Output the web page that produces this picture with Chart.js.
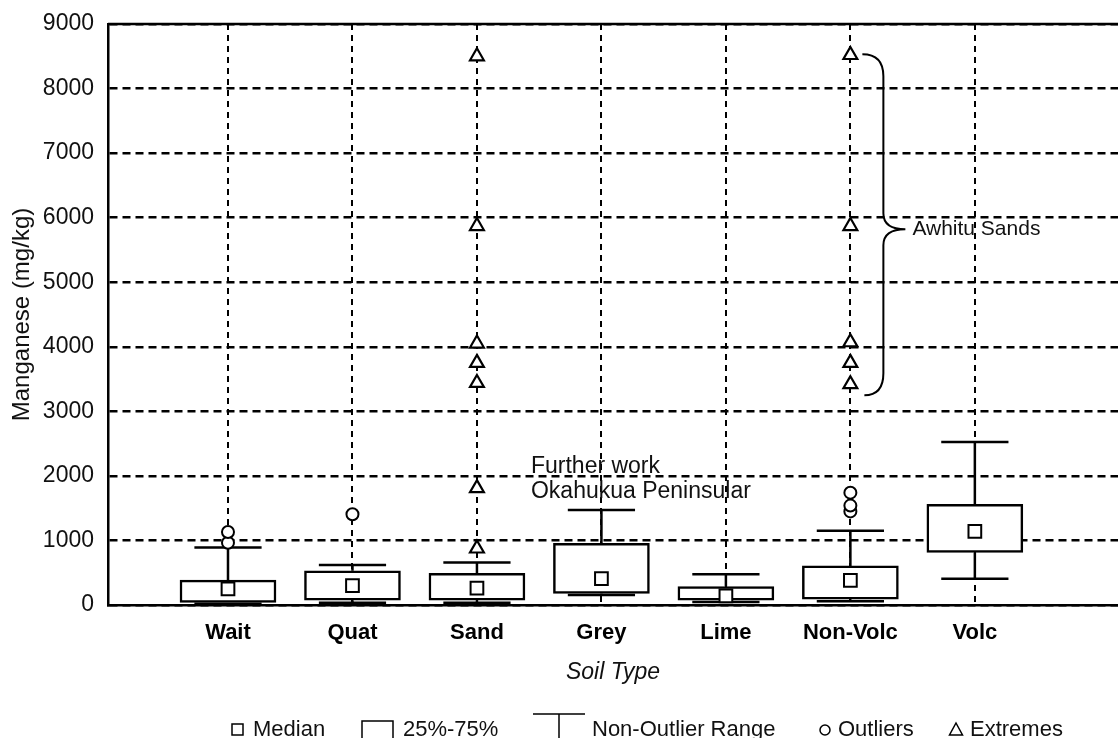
<!DOCTYPE html>
<html>
<head>
<meta charset="utf-8">
<script src="https://cdn.jsdelivr.net/npm/chart.js@4.4.1/dist/chart.umd.min.js"></script>
<style>
  html, body { margin: 0; padding: 0; background: #fff; }
  #wrap { width: 1118px; height: 738px; }
</style>
</head>
<body>
<div id="wrap"><canvas id="boxChart" width="1118" height="738"></canvas></div>
<script>
// soil types along the x axis
const soilTypes = ["Wait", "Quat", "Sand", "Grey", "Lime", "Non-Volc", "Volc"];

// box statistics, manganese in mg/kg
const medians   = [250, 300, 260, 410, 140, 380, 1140];
const q25       = [40, 75, 75, 180, 75, 90, 815];
const q75       = [385, 530, 490, 955, 285, 605, 1560];
const rangeLow  = [20, 35, 35, 155, 45, 60, 405];
const rangeHigh = [890, 620, 660, 1470, 475, 1150, 2525];

// points beyond the whiskers, one list per soil type
const outliers = [[965, 1130], [1405], [], [], [], [1450, 1540, 1740], []];
const extremes = [[], [], [875, 1810, 3440, 3750, 4050, 5870, 8500], [], [], [3420, 3750, 4070, 5870, 8520], []];

const yTickValues = [0, 1000, 2000, 3000, 4000, 5000, 6000, 7000, 8000, 9000];

Chart.defaults.font.family = '"Liberation Sans", Arial, Helvetica, sans-serif';
Chart.defaults.color = '#111';

const capHalf = 0.27;
const whiskerPts = [];
soilTypes.forEach((_, i) => {
  const cx = i + 1;
  whiskerPts.push(
    {x: cx, y: q75[i]}, {x: cx, y: rangeHigh[i]}, {x: cx, y: null},
    {x: cx - capHalf, y: rangeHigh[i]}, {x: cx + capHalf, y: rangeHigh[i]}, {x: cx, y: null},
    {x: cx, y: q25[i]}, {x: cx, y: rangeLow[i]}, {x: cx, y: null},
    {x: cx - capHalf, y: rangeLow[i]}, {x: cx + capHalf, y: rangeLow[i]}, {x: cx, y: null}
  );
});

const pointsOf = lists => lists.flatMap((vals, i) => vals.map(v => ({x: i + 1, y: v})));

// top frame line, notes, brace and the legend row
const extras = {
  id: 'extras',
  afterDraw(chart) {
    const {ctx, chartArea, scales: {x, y}} = chart;
    ctx.save();
    ctx.strokeStyle = '#000';
    ctx.lineWidth = 2.5;
    ctx.beginPath();
    ctx.moveTo(chartArea.left, chartArea.top);
    ctx.lineTo(chartArea.right, chartArea.top);
    ctx.stroke();

    ctx.fillStyle = '#111';
    ctx.textBaseline = 'middle';
    ctx.font = '23px "Liberation Sans", Arial, sans-serif';
    const sandX = x.getPixelForValue(3);
    ctx.fillText('Further work', sandX + 54, y.getPixelForValue(2150));
    ctx.fillText('Okahukua Peninsular', sandX + 54, y.getPixelForValue(1760));

    const nv = x.getPixelForValue(6);
    const top = y.getPixelForValue(8530), tip = y.getPixelForValue(5820), bot = y.getPixelForValue(3250);
    const bx = nv + 33;
    ctx.lineWidth = 2;
    ctx.beginPath();
    ctx.moveTo(nv + 12, top);
    ctx.quadraticCurveTo(bx, top, bx, top + 22);
    ctx.lineTo(bx, tip - 16);
    ctx.quadraticCurveTo(bx, tip, bx + 22, tip);
    ctx.quadraticCurveTo(bx, tip, bx, tip + 16);
    ctx.lineTo(bx, bot - 22);
    ctx.quadraticCurveTo(bx, bot, nv + 14, bot);
    ctx.stroke();
    ctx.font = '21px "Liberation Sans", Arial, sans-serif';
    ctx.fillText('Awhitu Sands', nv + 62, tip);

    // legend
    const base = 736;
    ctx.font = '22px "Liberation Sans", Arial, sans-serif';
    ctx.textBaseline = 'alphabetic';
    ctx.lineWidth = 1.5;
    ctx.strokeRect(232, 724, 11, 11);
    ctx.fillText('Median', 253, base);
    ctx.beginPath();
    ctx.moveTo(362, 742); ctx.lineTo(362, 721); ctx.lineTo(393, 721); ctx.lineTo(393, 742);
    ctx.stroke();
    ctx.fillText('25%-75%', 403, base);
    ctx.beginPath();
    ctx.moveTo(533, 714); ctx.lineTo(585, 714);
    ctx.moveTo(559, 714); ctx.lineTo(559, 742);
    ctx.stroke();
    ctx.fillText('Non-Outlier Range', 592, base);
    ctx.beginPath();
    ctx.arc(825, 730, 5, 0, Math.PI * 2);
    ctx.stroke();
    ctx.fillText('Outliers', 838, base);
    ctx.beginPath();
    ctx.moveTo(956, 723); ctx.lineTo(962.5, 735); ctx.lineTo(949.5, 735); ctx.closePath();
    ctx.stroke();
    ctx.fillText('Extremes', 970, base);
    ctx.restore();
  }
};

new Chart(document.getElementById('boxChart'), {
  type: 'bar',
  data: {
    datasets: [
      {
        type: 'scatter', label: 'Median', order: 0,
        data: soilTypes.map((_, i) => ({x: i + 1, y: medians[i]})),
        pointStyle: 'rect', pointRadius: 9, pointBackgroundColor: '#fff',
        pointBorderColor: '#000', pointBorderWidth: 2
      },
      {
        type: 'scatter', label: 'Outliers', order: 0,
        data: pointsOf(outliers),
        pointStyle: 'circle', pointRadius: 6, pointBackgroundColor: '#fff',
        pointBorderColor: '#000', pointBorderWidth: 2
      },
      {
        type: 'scatter', label: 'Extremes', order: 0,
        data: pointsOf(extremes),
        pointStyle: 'triangle', pointRadius: 8, pointBackgroundColor: '#fff',
        pointBorderColor: '#000', pointBorderWidth: 2.2
      },
      {
        type: 'bar', label: '25%-75%', order: 1,
        data: soilTypes.map((_, i) => ({x: i + 1, y: [q25[i], q75[i]]})),
        backgroundColor: '#fff', borderColor: '#000', borderWidth: 2.5,
        borderSkipped: false, barThickness: 96
      },
      {
        type: 'line', label: 'Non-Outlier Range', order: 2,
        data: whiskerPts,
        borderColor: '#000', borderWidth: 2.5, pointRadius: 0,
        fill: false, spanGaps: false, tension: 0
      }
    ]
  },
  options: {
    responsive: false,
    animation: false,
    layout: { autoPadding: false, padding: { top: 24, right: 0, bottom: 0, left: 0 } },
    plugins: { legend: { display: false }, tooltip: { enabled: false } },
    scales: {
      x: {
        type: 'linear', min: 0.036, max: 8.15, offset: false,
        afterBuildTicks: s => { s.ticks = soilTypes.map((_, i) => ({value: i + 1})); },
        afterFit: s => { s.height = 133; },
        grid: { color: '#000', lineWidth: 2, drawTicks: false, offset: false },
        border: { display: true, color: '#000', width: 2.5, dash: [6, 5] },
        ticks: {
          autoSkip: false, maxRotation: 0, padding: 15, color: '#000',
          font: { size: 22, weight: 'bold' },
          callback: (v, i) => soilTypes[i]
        },
        title: {
          display: true, text: 'Soil Type', color: '#111',
          font: { size: 23, style: 'italic' }, padding: { top: 0, bottom: 52 }
        }
      },
      y: {
        min: 0, max: 9000,
        afterBuildTicks: s => { s.ticks = yTickValues.map(v => ({value: v})); },
        afterFit: s => { s.width = 108; s.paddingTop = 0; s.paddingBottom = 0; },
        grid: { color: '#000', lineWidth: 2.5, drawTicks: false },
        border: { display: true, color: '#000', width: 2.5, dash: [8, 5] },
        ticks: { padding: 14, color: '#111', font: { size: 23 }, callback: v => String(v) },
        title: {
          display: true, text: 'Manganese (mg/kg)', color: '#111',
          font: { size: 24 }, padding: { top: 8, bottom: 0 }
        }
      }
    }
  },
  plugins: [extras]
});
</script>
</body>
</html>
